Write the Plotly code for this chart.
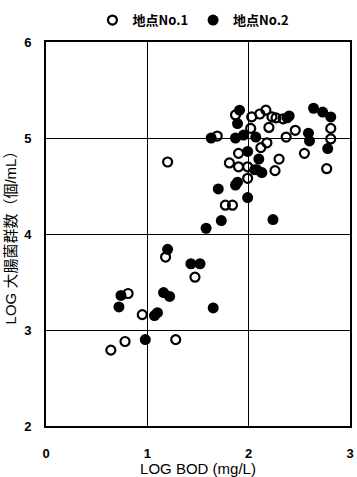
import plotly.graph_objects as go

# 地点No.1 (open circles)
site1_x = [0.64, 0.78, 1.28, 0.95, 0.81, 1.18, 1.47, 1.77, 1.84, 1.20,
           1.69, 1.81, 1.90, 1.99, 1.90, 1.99, 1.87, 2.03, 2.11, 2.17,
           2.23, 2.27, 2.34, 2.20, 2.02, 2.46, 2.37, 2.18, 2.12, 2.30,
           2.26, 2.55, 2.81, 2.81, 2.77]
site1_y = [2.79, 2.88, 2.90, 3.16, 3.38, 3.76, 3.55, 4.30, 4.30, 4.75,
           5.02, 4.74, 4.70, 4.70, 4.84, 4.58, 5.24, 5.22, 5.25, 5.29,
           5.22, 5.21, 5.20, 5.11, 5.10, 5.08, 5.01, 4.95, 4.90, 4.78,
           4.66, 4.84, 5.10, 4.99, 4.68]

# 地点No.2 (filled circles)
site2_x = [0.98, 0.72, 0.74, 1.07, 1.10, 1.16, 1.22, 1.20, 1.43, 1.52,
           1.65, 1.58, 1.73, 2.24, 1.70, 1.87, 1.89, 1.99, 1.63, 1.87,
           1.95, 2.07, 1.99, 2.06, 2.08, 2.13, 2.10, 1.91, 1.89, 2.38,
           2.40, 2.64, 2.73, 2.81, 2.59, 2.60, 2.78]
site2_y = [2.90, 3.24, 3.36, 3.15, 3.18, 3.39, 3.35, 3.84, 3.69, 3.69,
           3.23, 4.06, 4.14, 4.15, 4.47, 4.51, 4.54, 4.38, 5.00, 5.00,
           5.03, 5.01, 4.86, 4.67, 4.67, 4.64, 4.78, 5.29, 5.15, 5.21,
           5.23, 5.31, 5.27, 5.22, 5.05, 4.97, 4.89]

x_ticks = [0, 1, 2, 3]
y_ticks = [2, 3, 4, 5, 6]
x_title = "LOG BOD (mg/L)"
y_title = "LOG 大腸菌群数（個/mL）"
names = ["地点No.1", "地点No.2"]

FONT = "Liberation Sans, Arial, Noto Sans CJK JP, sans-serif"

fig = go.Figure()
fig.add_trace(go.Scatter(
    x=site1_x, y=site1_y, mode="markers", name=names[0],
    marker=dict(symbol="circle-open", size=9, color="black",
                line=dict(width=2.2, color="black")),
))
fig.add_trace(go.Scatter(
    x=site2_x, y=site2_y, mode="markers", name=names[1],
    marker=dict(symbol="circle", size=11, color="black",
                line=dict(width=0)),
))

axis_common = dict(
    showline=True, mirror=True, linecolor="black", linewidth=2,
    showgrid=True, gridcolor="black", gridwidth=1,
    zeroline=False, ticks="",
    tickfont=dict(family=FONT, size=13, color="black", weight="bold"),
)

fig.update_layout(
    width=357, height=477,
    margin=dict(l=46, r=3, t=42, b=51),
    paper_bgcolor="white", plot_bgcolor="white",
    font=dict(family=FONT, size=13, color="black"),
    showlegend=True,
    legend=dict(
        orientation="h", x=0.485, xanchor="center", y=1.057, yanchor="middle",
        font=dict(family="Noto Sans CJK JP, Liberation Sans, sans-serif",
                  size=13, color="black", weight="bold"),
        itemwidth=30, tracegroupgap=0, bgcolor="rgba(0,0,0,0)",
    ),
    xaxis=dict(
        range=[0, 3], tickvals=x_ticks, ticktext=[str(v) for v in x_ticks],
        ticklabelstandoff=14,
        title=dict(text=x_title, standoff=2,
                   font=dict(family=FONT, size=15, color="black")),
        **axis_common,
    ),
    yaxis=dict(
        range=[2, 6], tickvals=y_ticks, ticktext=[str(v) for v in y_ticks],
        ticklabelstandoff=10,
        title=dict(text=y_title, standoff=4,
                   font=dict(family="Liberation Sans, Noto Sans CJK JP, sans-serif",
                             size=15, color="black")),
        **axis_common,
    ),
)

fig.write_html("out.html")
